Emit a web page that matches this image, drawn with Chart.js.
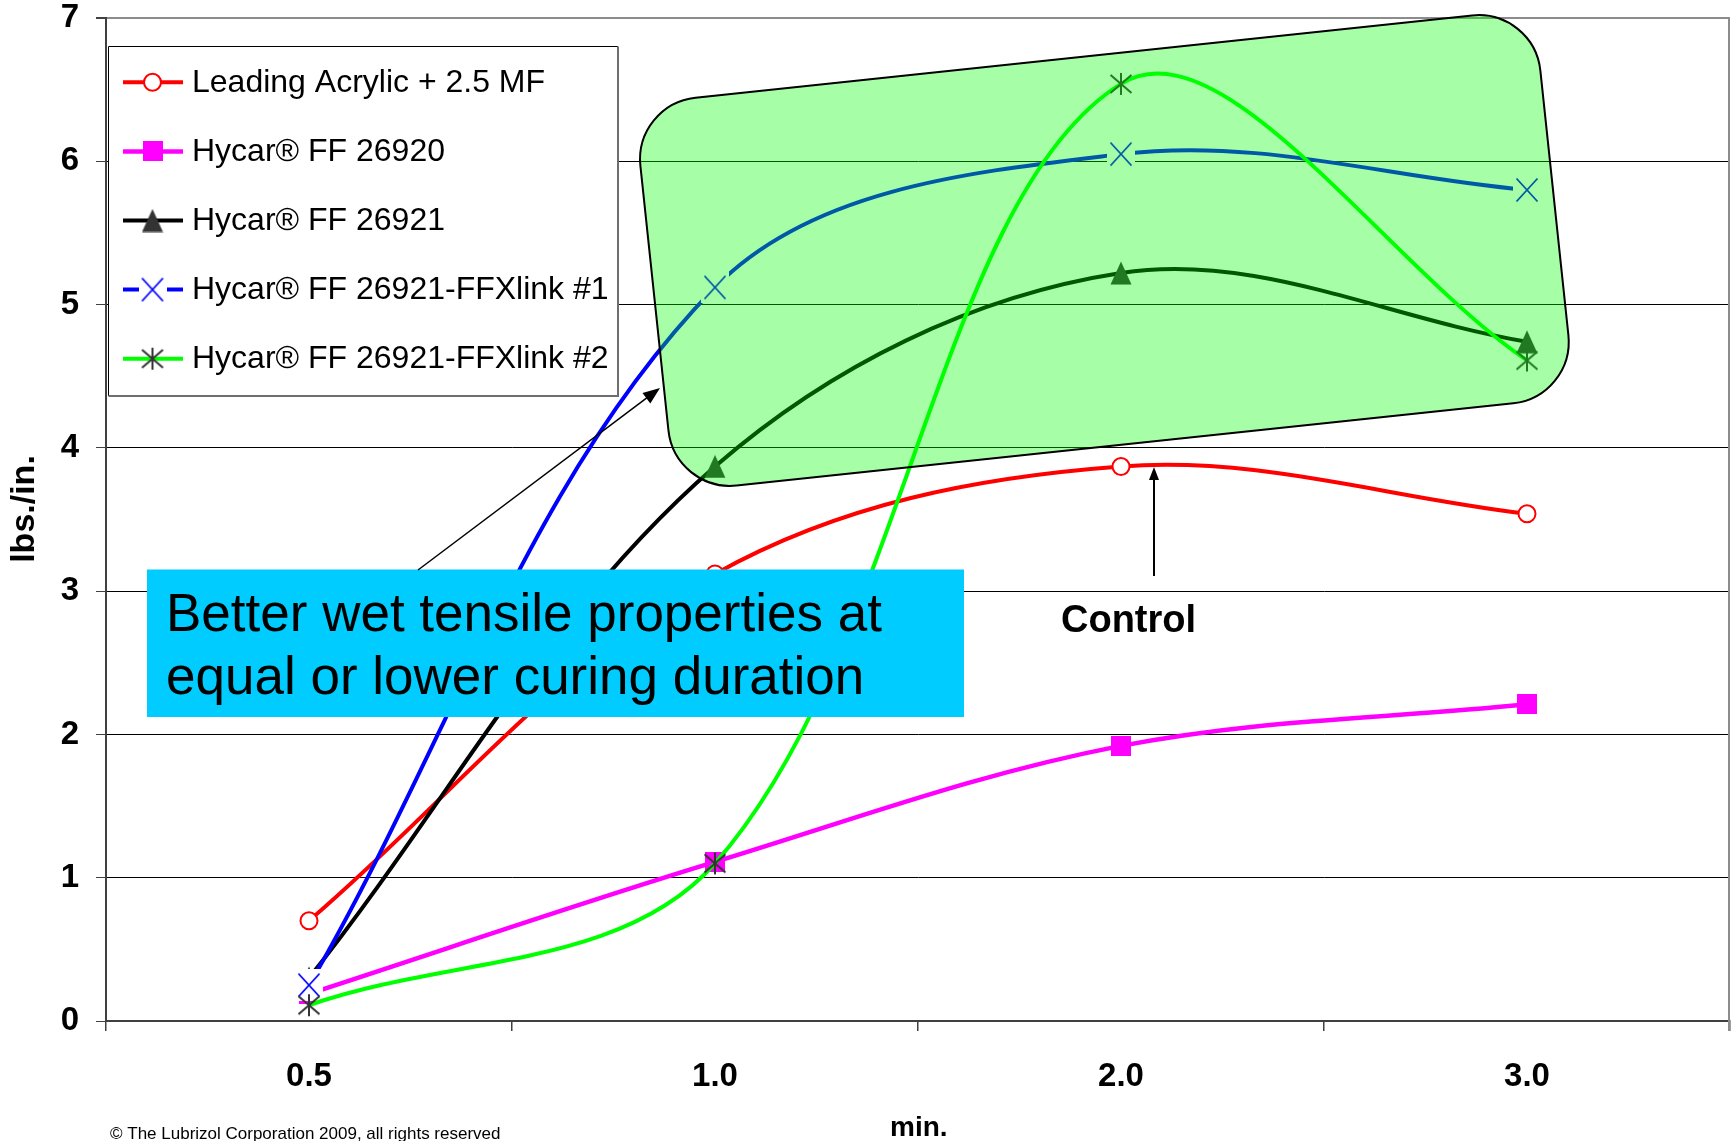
<!DOCTYPE html>
<html>
<head>
<meta charset="utf-8">
<title>Wet tensile strength vs. cure time</title>
<script src="https://cdn.jsdelivr.net/npm/chart.js@4.4.1/dist/chart.umd.min.js"></script>
<style>
  html, body { margin: 0; padding: 0; background: #ffffff; }
  #wrap { width: 1734px; height: 1141px; position: relative; }
</style>
</head>
<body>
<div id="wrap"><canvas id="chart" width="1734" height="1141"></canvas></div>
<script>
// ---- data ----
const minutes = ['0.5', '1.0', '2.0', '3.0'];
const seriesNames = [
  'Leading Acrylic + 2.5 MF',
  'Hycar® FF 26920',
  'Hycar® FF 26921',
  'Hycar® FF 26921-FFXlink #1',
  'Hycar® FF 26921-FFXlink #2'
];
const leadingAcrylic = [0.70, 3.12, 3.87, 3.54];
const hycar26920     = [0.19, 1.11, 1.92, 2.21];
const hycar26921     = [0.30, 3.87, 5.22, 4.74];
const ffxlink1       = [0.25, 5.12, 6.05, 5.80];
const ffxlink2       = [0.11, 1.10, 6.54, 4.61];
const yMin = 0, yMax = 7, yStep = 1;

const yTitle = 'lbs./in.';
const xTitle = 'min.';
const calloutLines = ['Better wet tensile properties at', 'equal or lower curing duration'];
const controlLabel = 'Control';
const copyright = '© The Lubrizol Corporation 2009, all rights reserved';

// ---- look ----
const FONT = "'Liberation Sans', Arial, Helvetica, sans-serif";

function makeMarker(w, h, paint) {
  const c = document.createElement('canvas');
  c.width = w; c.height = h;
  paint(c.getContext('2d'), w, h);
  return c;
}
const squareMarker = makeMarker(20, 20, (g) => {
  g.fillStyle = '#FF00FF';
  g.fillRect(0, 0, 20, 20);
});
const triangleMarker = makeMarker(22, 24, (g) => {
  g.fillStyle = '#333333';
  g.beginPath();
  g.moveTo(11, 0.5); g.lineTo(21.5, 23.5); g.lineTo(0.5, 23.5);
  g.closePath(); g.fill();
});
// the x marker sits on a white patch that hides whatever lies under it
const crossMarker = makeMarker(28, 32, (g) => {
  g.fillStyle = '#FFFFFF';
  g.fillRect(0, 0, 28, 32);
  g.strokeStyle = '#0000FF';
  g.lineWidth = 1.8;
  g.beginPath();
  g.moveTo(3.5, 4.5); g.lineTo(24.5, 27.5);
  g.moveTo(24.5, 4.5); g.lineTo(3.5, 27.5);
  g.stroke();
});
const asteriskMarker = makeMarker(24, 24, (g) => {
  g.strokeStyle = '#333333';
  g.lineWidth = 2;
  g.beginPath();
  g.moveTo(12, 1); g.lineTo(12, 23);
  g.moveTo(1.5, 3); g.lineTo(22.5, 21);
  g.moveTo(22.5, 3); g.lineTo(1.5, 21);
  g.stroke();
});

const datasets = [
  { label: seriesNames[0], data: leadingAcrylic, borderColor: '#FF0000', borderWidth: 4,
    pointStyle: 'circle', pointRadius: 8.5, pointBorderWidth: 2,
    pointBackgroundColor: '#FFFFFF', pointBorderColor: '#FF0000', order: 5 },
  { label: seriesNames[1], data: hycar26920, borderColor: '#FF00FF', borderWidth: 4.5,
    pointStyle: squareMarker, pointRadius: 10, order: 4 },
  { label: seriesNames[2], data: hycar26921, borderColor: '#000000', borderWidth: 4,
    pointStyle: triangleMarker, pointRadius: 10, order: 3 },
  { label: seriesNames[3], data: ffxlink1, borderColor: '#0000FF', borderWidth: 4,
    pointStyle: crossMarker, pointRadius: 10, order: 2 },
  { label: seriesNames[4], data: ffxlink2, borderColor: '#00FF00', borderWidth: 4,
    pointStyle: asteriskMarker, pointRadius: 10, order: 1 }
];

function arrow(ctx, x1, y1, x2, y2, width, headLen, headW) {
  const a = Math.atan2(y2 - y1, x2 - x1);
  ctx.save();
  ctx.strokeStyle = '#000'; ctx.fillStyle = '#000'; ctx.lineWidth = width;
  ctx.beginPath();
  ctx.moveTo(x1, y1);
  ctx.lineTo(x2 - Math.cos(a) * headLen * 0.8, y2 - Math.sin(a) * headLen * 0.8);
  ctx.stroke();
  ctx.translate(x2, y2); ctx.rotate(a);
  ctx.beginPath();
  ctx.moveTo(0, 0); ctx.lineTo(-headLen, -headW / 2); ctx.lineTo(-headLen, headW / 2);
  ctx.closePath(); ctx.fill();
  ctx.restore();
}

// translucent highlight, callout box, arrows and labels
const annotations = {
  id: 'annotations',
  afterDatasetsDraw(chart) {
    const ctx = chart.ctx;
    const area = chart.chartArea;

    // right-hand frame line
    ctx.save();
    ctx.strokeStyle = '#8C8C8C'; ctx.lineWidth = 2;
    ctx.beginPath(); ctx.moveTo(area.right - 1, area.top); ctx.lineTo(area.right - 1, area.bottom + 10); ctx.stroke();
    ctx.restore();

    // tilted rounded highlight over the upper curves
    ctx.save();
    ctx.translate(1104.4, 250.5);
    ctx.rotate(-6.05 * Math.PI / 180);
    ctx.beginPath();
    ctx.roundRect(-452.5, -195, 905, 390, 62);
    ctx.fillStyle = 'rgba(0, 255, 0, 0.35)';
    ctx.fill();
    ctx.lineWidth = 2; ctx.strokeStyle = '#000';
    ctx.stroke();
    ctx.restore();

    // callout box
    ctx.save();
    ctx.fillStyle = '#00CCFF';
    ctx.fillRect(147, 569.5, 817, 147.5);
    ctx.fillStyle = '#000';
    ctx.font = '53px ' + FONT;
    ctx.textBaseline = 'alphabetic';
    ctx.fillText(calloutLines[0], 166, 631);
    ctx.fillText(calloutLines[1], 166, 694);
    ctx.restore();

    arrow(ctx, 418, 570, 660, 388, 1.5, 17, 13);
    arrow(ctx, 1154, 576, 1154, 467, 2, 13, 10);

    ctx.save();
    ctx.fillStyle = '#000';
    ctx.font = 'bold 38px ' + FONT;
    ctx.fillText(controlLabel, 1061, 632);
    ctx.restore();
  },
  afterDraw(chart) {
    const ctx = chart.ctx;
    // legend
    ctx.save();
    ctx.fillStyle = '#FFFFFF';
    ctx.fillRect(108.5, 46.5, 509.5, 349.5);
    ctx.strokeStyle = '#000'; ctx.lineWidth = 1;
    ctx.beginPath();
    ctx.moveTo(108.5, 396); ctx.lineTo(108.5, 46.5); ctx.lineTo(618, 46.5);
    ctx.stroke();
    ctx.strokeStyle = '#6E6E6E'; ctx.lineWidth = 2;
    ctx.beginPath();
    ctx.moveTo(618, 46.5); ctx.lineTo(618, 396); ctx.lineTo(108.5, 396);
    ctx.stroke();

    chart.data.datasets.forEach((ds, i) => {
      const y = 82.3 + 69.1 * i;
      ctx.strokeStyle = ds.borderColor; ctx.lineWidth = ds.borderWidth;
      ctx.beginPath(); ctx.moveTo(123, y); ctx.lineTo(183, y); ctx.stroke();
      const mx = 152.5;
      if (typeof ds.pointStyle === 'string') {
        ctx.beginPath();
        ctx.arc(mx, y, ds.pointRadius, 0, Math.PI * 2);
        ctx.fillStyle = ds.pointBackgroundColor; ctx.fill();
        ctx.lineWidth = ds.pointBorderWidth; ctx.strokeStyle = ds.pointBorderColor; ctx.stroke();
      } else {
        const m = ds.pointStyle;
        ctx.drawImage(m, mx - m.width / 2, y - m.height / 2);
      }
      ctx.fillStyle = '#000';
      ctx.font = '32px ' + FONT;
      ctx.textBaseline = 'alphabetic';
      ctx.fillText(ds.label, 192, y + 9.4);
    });
    ctx.restore();

    // axis titles and footer
    ctx.save();
    ctx.fillStyle = '#000';
    ctx.font = 'bold 34px ' + FONT;
    ctx.textAlign = 'center'; ctx.textBaseline = 'middle';
    ctx.translate(25, 509);
    ctx.rotate(-Math.PI / 2);
    ctx.fillText(yTitle, 0, 0);
    ctx.restore();

    ctx.save();
    ctx.fillStyle = '#000';
    ctx.font = 'bold 28px ' + FONT;
    ctx.textBaseline = 'alphabetic';
    ctx.fillText(xTitle, 890, 1136);
    ctx.font = '17px ' + FONT;
    ctx.fillText(copyright, 110, 1139);
    ctx.restore();
  }
};

new Chart(document.getElementById('chart'), {
  type: 'line',
  data: { labels: minutes, datasets: datasets },
  options: {
    responsive: false,
    animation: false,
    events: [],
    layout: { autoPadding: false, padding: { top: 18, right: 4, bottom: 0, left: 0 } },
    elements: { line: { tension: 0.35, fill: false } },
    plugins: { legend: { display: false }, tooltip: { enabled: false } },
    scales: {
      x: {
        type: 'category',
        offset: true,
        grid: { drawOnChartArea: false, drawTicks: true, tickLength: 10, color: '#404040', lineWidth: 1.5, offset: true },
        border: { display: true, color: '#404040', width: 2 },
        ticks: { color: '#000', font: { family: FONT, size: 33, weight: 'bold', lineHeight: 1 }, padding: 29, maxRotation: 0 },
        afterFit(scale) {
          scale.height = 120;
          scale.paddingLeft = 0; scale.paddingRight = 0;
        }
      },
      y: {
        min: yMin, max: yMax,
        grid: {
          color: (c) => (c.tick && c.tick.value === yMax ? '#8C8C8C' : '#000000'),
          lineWidth: (c) => (c.tick && c.tick.value === yMax ? 2 : 1),
          tickColor: '#404040', tickLength: 10, drawTicks: true
        },
        border: { display: true, color: '#404040', width: 2 },
        ticks: { stepSize: yStep, color: '#000', padding: 17, font: { family: FONT, size: 33, weight: 'bold', lineHeight: 1 } },
        afterFit(scale) {
          scale.width = 106;
          scale.paddingTop = 0; scale.paddingBottom = 0;
        }
      }
    }
  },
  plugins: [annotations]
});
</script>
</body>
</html>
